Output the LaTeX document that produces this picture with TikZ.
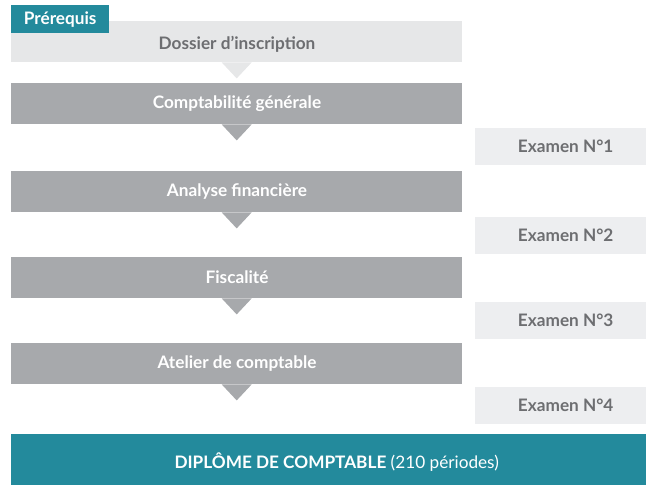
\documentclass[tikz,border=0pt]{standalone}
\usepackage{fontspec}
\setmainfont{Lato}
\definecolor{teal1}{HTML}{238A9C}
\definecolor{dgray}{HTML}{A7A9AC}
\definecolor{lgray}{HTML}{E6E7E8}
\definecolor{egray}{HTML}{EDEEF0}
\definecolor{tgray}{HTML}{6D6E71}
\begin{document}
\begin{tikzpicture}[x=1pt,y=-1pt,
  mainbox/.style={fill=dgray,draw=none,anchor=north west,minimum width=451pt,minimum height=41pt,inner sep=0pt},
  lightbox/.style={fill=lgray,draw=none,anchor=north west,minimum width=451pt,minimum height=41pt,inner sep=0pt},
  exambox/.style={fill=egray,draw=none,anchor=north west,minimum width=171pt,minimum height=37pt,inner sep=0pt},
  whitetxt/.style={text=white,font=\fontsize{17.2}{19}\selectfont\bfseries},
  graytxt/.style={text=tgray,font=\fontsize{17.2}{19}\selectfont\bfseries}
]
\useasboundingbox (0,0) rectangle (646,485);
% boxes
\node[lightbox] (b0) at (11,21) {};
\node[mainbox] (b1) at (11,83) {};
\node[mainbox] (b2) at (11,171) {};
\node[mainbox] (b3) at (11,257) {};
\node[mainbox] (b4) at (11,343) {};
% triangles
\fill[lgray] ([xshift=-15pt]b0.south) -- ([xshift=15pt]b0.south) -- ([yshift=-16pt]b0.south) -- cycle;
\foreach \b in {b1,b2,b3,b4}{
  \fill[dgray] ([xshift=-15pt]\b.south) -- ([xshift=15pt]\b.south) -- ([yshift=-16pt]\b.south) -- cycle;
}
% prerequis tab
\node[fill=teal1,anchor=north west,minimum width=98pt,minimum height=28pt,inner sep=0pt,
  text=white,font=\fontsize{17.2}{19}\selectfont\bfseries] (pre) at (11,5) {Prérequis};
% texts
\node[graytxt] (t0) at (237,44) {Dossier d’inscription};
\node[whitetxt] (t1) at (237,104) {Comptabilité générale};
\node[whitetxt] (t2) at (237,191.5) {Analyse financière};
\node[whitetxt] (t3) at (237,277.5) {Fiscalité};
\node[whitetxt] (t4) at (237,363.5) {Atelier de comptable};
% exams
\node[exambox] (e1) at (475,128) {};
\node[exambox] (e2) at (475,217) {};
\node[exambox] (e3) at (475,302) {};
\node[exambox] (e4) at (475,387) {};
\node[graytxt] at ([xshift=5pt]e1.center) {Examen N°1};
\node[graytxt] at ([xshift=5pt]e2.center) {Examen N°2};
\node[graytxt] at ([xshift=5pt]e3.center) {Examen N°3};
\node[graytxt] at ([xshift=5pt]e4.center) {Examen N°4};
% diploma
\node[fill=teal1,anchor=north west,minimum width=635pt,minimum height=51pt,inner sep=0pt] (dip) at (11,434) {};
\node[text=white,font=\fontsize{17.2}{19}\selectfont] (diptxt) at ([xshift=8pt,yshift=-2pt]dip.center) {\textbf{DIPLÔME DE COMPTABLE} (210 périodes)};
\end{tikzpicture}
\end{document}
